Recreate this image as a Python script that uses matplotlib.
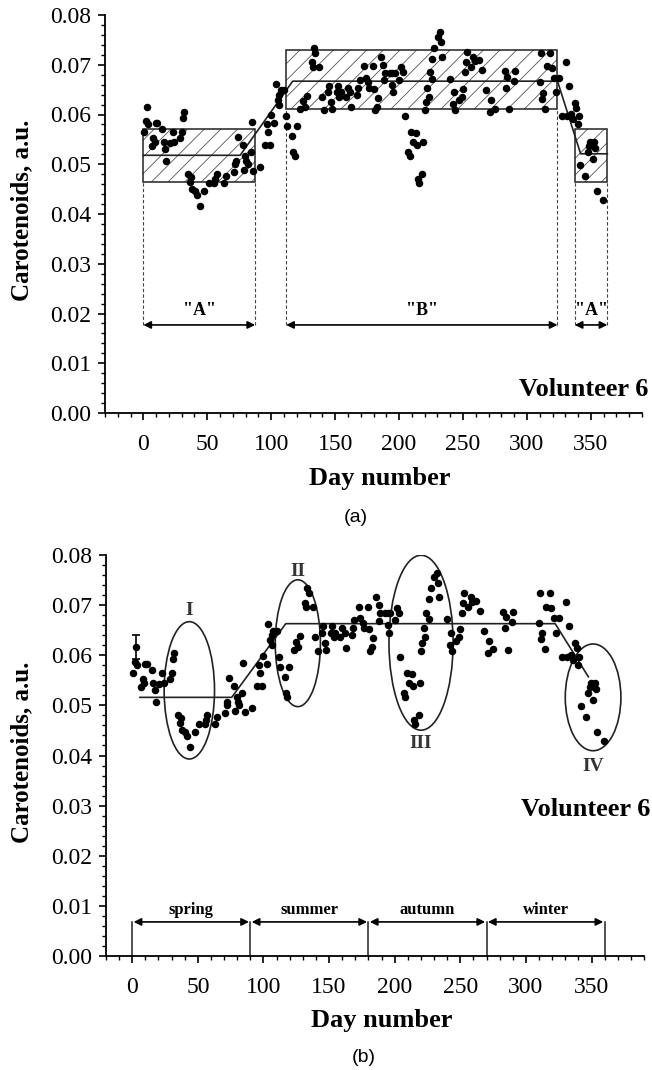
import matplotlib
matplotlib.use("Agg")
import matplotlib.pyplot as plt
from matplotlib.patches import Rectangle, Ellipse
from matplotlib.ticker import MultipleLocator
import numpy as np

plt.rcParams['font.family'] = ['Liberation Serif', 'DejaVu Serif']
plt.rcParams['hatch.linewidth'] = 0.6

# ---------------- data ----------------
days = [2.8, 1.8, 3.8, 0.8, 9.7, 10.9, 14.8, 7.9, 8.9, 6.6, 16.0, 17.0, 20.6, 22.9, 24.2, 17.8,
        28.8, 30.0, 30.8, 32.1, 35.1, 36.9, 36.1, 37.7, 40.2, 42.0, 44.0, 47.8, 51.1, 55.5, 56.2,
        57.3, 63.1, 64.4, 70.7, 72.0, 72.5, 74.0, 77.6, 78.6, 79.6, 80.6, 81.7, 83.9, 85.7, 91.6,
        84.7, 95.4, 98.7, 97.4, 96.9, 99.5, 102.5, 103.8, 105.1, 106.4, 106.4, 107.6, 110.2, 111.5,
        112.7, 116.5, 119.8, 117.3, 118.3, 122.9, 124.9, 126.7, 128.0, 131.8, 133.1, 134.6, 132.6,
        137.7,
        139.4, 141.2, 145.3, 144.5, 147.1, 147.6, 152.2, 151.4, 153.4, 154.7, 158.6, 159.8, 161.9,
        162.7, 167.4, 168.2, 169.2, 172.5, 173.8, 175.8, 176.3, 179.4, 180.2, 183.5, 182.7, 181.4,
        186.0, 187.8, 189.1, 188.3, 192.9, 194.7, 196.7, 194.7, 195.4, 200.0, 201.8, 203.1, 204.4,
        209.4, 213.3, 210.7, 214.0, 219.1, 206.9, 208.2, 215.0, 218.3, 215.8, 220.1, 220.9, 222.2,
        223.4, 224.2, 226.0,
        232.3, 230.3, 232.8, 227.7, 233.8, 226.0, 240.0, 243.0, 242.0, 244.0, 247.1, 248.9, 250.1,
        251.5, 252.2, 253.2, 256.0, 257.9, 259.0, 262.2, 264.9, 268.0, 271.9, 271.0, 275.1, 282.7,
        284.5, 290.3, 289.6, 283.7, 286.3,
        309.9, 310.7, 318.3, 315.5, 319.3, 312.5, 311.7, 314.5, 321.4, 325.2, 322.7, 330.3, 332.8,
        327.2, 331.6, 334.1, 335.9, 337.4, 338.7, 340.5, 339.7, 349.4, 352.7, 347.6, 348.6, 353.2,
        351.5, 341.8, 345.6, 354.5, 359.6]
carotenoids = [0.0616, 0.0587, 0.0581, 0.0565, 0.0583, 0.0583, 0.0571, 0.0553, 0.0544, 0.0536,
               0.0545, 0.0531, 0.0543, 0.0564, 0.0545, 0.0506, 0.0552, 0.0565, 0.0593, 0.0605,
               0.0481, 0.0474, 0.0464, 0.0450, 0.0446, 0.0439, 0.0416, 0.0446, 0.0462, 0.0462,
               0.0471,
               0.0481, 0.0463, 0.0476, 0.0484, 0.0501, 0.0507, 0.0554, 0.0539, 0.0489, 0.0517,
               0.0507, 0.0501, 0.0525, 0.0487, 0.0494, 0.0585, 0.0539, 0.0539, 0.0565, 0.0581,
               0.0599, 0.0583, 0.0662, 0.0630, 0.0640, 0.0620, 0.0649, 0.0649, 0.0597, 0.0577,
               0.0556, 0.0576, 0.0525, 0.0517, 0.0611, 0.0627, 0.0616, 0.0638, 0.0705, 0.0734,
               0.0724, 0.0696, 0.0696,
               0.0636, 0.0609, 0.0658, 0.0645, 0.0625, 0.0611, 0.0658, 0.0645, 0.0636, 0.0645,
               0.0636, 0.0654, 0.0645, 0.0615, 0.0640, 0.0654, 0.0670, 0.0697, 0.0674, 0.0665,
               0.0654, 0.0697, 0.0652, 0.0634, 0.0616, 0.0609, 0.0716, 0.0700, 0.0684, 0.0669,
               0.0684, 0.0684, 0.0684, 0.0660, 0.0645, 0.0670, 0.0695, 0.0685, 0.0596, 0.0565,
               0.0563, 0.0545, 0.0539, 0.0545, 0.0525, 0.0517, 0.0471, 0.0481, 0.0463, 0.0609,
               0.0625, 0.0654, 0.0636, 0.0685, 0.0712,
               0.0765, 0.0756, 0.0745, 0.0734, 0.0716, 0.0672, 0.0672, 0.0645, 0.0621, 0.0609,
               0.0629, 0.0636, 0.0652, 0.0685, 0.0705, 0.0725, 0.0696, 0.0716, 0.0707, 0.0709,
               0.0689, 0.0649, 0.0629, 0.0605, 0.0612, 0.0687, 0.0676, 0.0687, 0.0667, 0.0654,
               0.0611,
               0.0665, 0.0724, 0.0724, 0.0697, 0.0694, 0.0644, 0.0632, 0.0612, 0.0674, 0.0674,
               0.0645, 0.0706, 0.0658, 0.0596, 0.0596, 0.0601, 0.0591, 0.0624, 0.0614, 0.0596,
               0.0581, 0.0545, 0.0545, 0.0525, 0.0536, 0.0532, 0.0511, 0.0499, 0.0476, 0.0446,
               0.0428]

# panel (a): trend line and "A"/"B" boxes
trend_a_x = [0.0, 75.7, 116.8, 323.9, 342.0, 362.9]
trend_a_y = [0.0518, 0.0518, 0.0667, 0.0667, 0.0521, 0.0521]
boxes_x0 = [0.0, 111.7, 337.4]
boxes_x1 = [87.4, 323.9, 362.9]
boxes_lo = [0.0465, 0.0611, 0.0465]
boxes_hi = [0.0571, 0.0729, 0.0571]
box_labels = ['"A"', '"B"', '"A"']
arrow_level_a = 0.0177

# panel (b): trend line, error bar, ellipses, seasons
trend_b_x = [5.9, 75.8, 117.0, 322.3, 347.6]
trend_b_y = [0.0516, 0.0516, 0.0663, 0.0663, 0.0557]
err_x, err_y, err_e = 2.8, 0.0616, 0.0024
ell_cx = [43.5, 126.2, 220.1, 351.2]
ell_cy = [0.0530, 0.0624, 0.0625, 0.0516]
ell_w = [38.4, 34.4, 48.9, 42.4]
ell_h = [0.0274, 0.0253, 0.0349, 0.0213]
ell_labels = ['I', 'II', 'III', 'IV']
ell_label_y = [0.0690, 0.0767, 0.0423, 0.0378]
season_edges = [0, 90, 180, 270, 360]
season_names = ['spring', 'summer', 'autumn', 'winter']

# ---------------- figure ----------------
W, H = 652, 1070
fig = plt.figure(figsize=(W / 100, H / 100), dpi=100)

def px_axes(l, r, t, b):
    return fig.add_axes([l / W, 1 - b / H, (r - l) / W, (b - t) / H])

def style(ax, xmin):
    ax.set_xlim(xmin, 390)
    ax.set_ylim(0, 0.08)
    for s in ('top', 'right'):
        ax.spines[s].set_visible(False)
    for s in ('left', 'bottom'):
        ax.spines[s].set_linewidth(1.3)
    ax.xaxis.set_major_locator(MultipleLocator(50))
    ax.xaxis.set_minor_locator(MultipleLocator(10))
    ax.yaxis.set_major_locator(MultipleLocator(0.01))
    ax.yaxis.set_minor_locator(MultipleLocator(0.002))
    ax.set_xticks(np.arange(0, 351, 50))
    ax.yaxis.set_major_formatter(matplotlib.ticker.FormatStrFormatter('%.2f'))
    ax.tick_params(which='major', direction='out', length=5, width=1.2, labelsize=17, pad=5)
    ax.tick_params(which='minor', direction='out', length=3, width=1.0)
    ax.tick_params(axis='x', which='major', pad=10)

# ---------- panel (a) ----------
ax1 = px_axes(105, 642, 15, 413)
style(ax1, -30)
for x0, x1, lo, hi, lab in zip(boxes_x0, boxes_x1, boxes_lo, boxes_hi, box_labels):
    ax1.add_patch(Rectangle((x0, lo), x1 - x0, hi - lo, facecolor='none',
                            edgecolor='#555555', hatch='//', lw=0, zorder=1))
    ax1.add_patch(Rectangle((x0, lo), x1 - x0, hi - lo, facecolor='none',
                            edgecolor='#222222', lw=1.1, zorder=2))
    for xv in (x0, x1):
        ax1.plot([xv, xv], [arrow_level_a, lo], color='#444444', lw=0.8,
                 ls=(0, (3, 2)), zorder=1)
    ax1.annotate('', xy=(x1, arrow_level_a), xytext=(x0, arrow_level_a),
                 arrowprops=dict(arrowstyle='<|-|>', color='k', lw=1.2,
                                 mutation_scale=11, shrinkA=0, shrinkB=0))
    ax1.text((x0 + x1) / 2, arrow_level_a + 0.0012, lab, ha='center', va='bottom',
             fontsize=13, fontweight='bold')
ax1.plot(trend_a_x, trend_a_y, color='#222222', lw=1.2, zorder=3)
ax1.plot(days, carotenoids, 'o', color='black', ms=4.4, zorder=4)

# ---------- panel (b) ----------
ax2 = px_axes(106, 644, 555, 956)
style(ax2, -20)
ax2.plot(trend_b_x, trend_b_y, color='#222222', lw=1.2, zorder=3)
ax2.plot(days, carotenoids, 'o', color='black', ms=4.4, zorder=4)
ax2.errorbar([err_x], [err_y], yerr=[err_e], fmt='none', ecolor='black', elinewidth=1.2,
             capsize=3, capthick=1.2, zorder=4)
for cx, cy, w, h, lab, ly in zip(ell_cx, ell_cy, ell_w, ell_h, ell_labels, ell_label_y):
    ax2.add_patch(Ellipse((cx, cy), w, h, facecolor='none', edgecolor='#222222', lw=1.2,
                          zorder=3))
    ax2.text(cx, ly, lab, ha='center', va='center', fontsize=14, fontweight='bold',
             color='#333333')
season_level = 0.0068
for xv in season_edges:
    ax2.plot([xv, xv], [0, season_level], color='#222222', lw=1.1)
for x0, x1, name in zip(season_edges[:-1], season_edges[1:], season_names):
    ax2.annotate('', xy=(x1, season_level), xytext=(x0, season_level),
                 arrowprops=dict(arrowstyle='<|-|>', color='k', lw=1.2,
                                 mutation_scale=11, shrinkA=1, shrinkB=1))
    ax2.text((x0 + x1) / 2, season_level + 0.0008, name, ha='center', va='bottom',
             fontsize=12, fontweight='bold')

# ---------- texts ----------
for yc in (210, 752):
    fig.text(22 / W, 1 - yc / H, 'Carotenoids, a.u.', rotation=90, ha='center', va='center',
             fontsize=18, fontweight='bold')
fig.text(648 / W, 1 - 390 / H, 'Volunteer 6', ha='right', va='center', fontsize=19,
         fontweight='bold')
fig.text(650 / W, 1 - 810 / H, 'Volunteer 6', ha='right', va='center', fontsize=19,
         fontweight='bold')
fig.text(380 / W, 1 - 479 / H, 'Day number', ha='center', va='center', fontsize=19,
         fontweight='bold')
fig.text(382 / W, 1 - 1020 / H, 'Day number', ha='center', va='center', fontsize=19,
         fontweight='bold')
fig.text(356 / W, 1 - 518 / H, '(a)', ha='center', va='center', fontsize=14,
         family='Liberation Sans')
fig.text(364 / W, 1 - 1057 / H, '(b)', ha='center', va='center', fontsize=14,
         family='Liberation Sans')

fig.savefig('out.png', dpi=100)
